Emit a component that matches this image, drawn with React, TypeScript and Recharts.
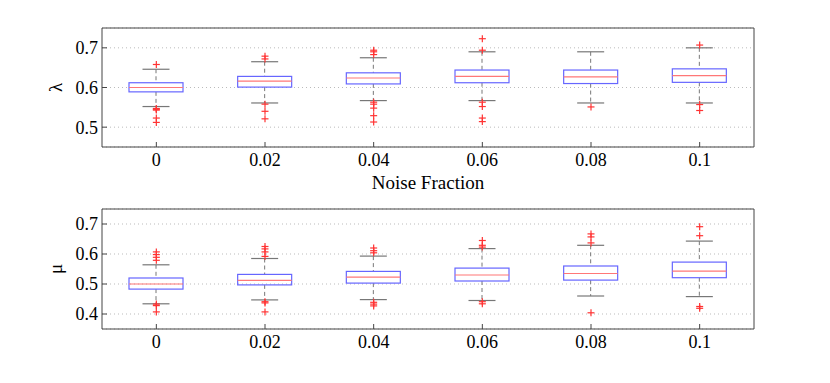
import React from "react";
import {
  ComposedChart,
  XAxis,
  YAxis,
  CartesianGrid,
  Bar,
  Scatter,
} from "recharts";

const categories = ["0", "0.02", "0.04", "0.06", "0.08", "0.1"];

// lambda panel
const lamLow = [0.552, 0.561, 0.567, 0.567, 0.561, 0.561];
const lamQ1 = [0.589, 0.601, 0.609, 0.612, 0.61, 0.613];
const lamMed = [0.6, 0.616, 0.624, 0.628, 0.627, 0.63];
const lamQ3 = [0.612, 0.628, 0.637, 0.644, 0.644, 0.647];
const lamHigh = [0.646, 0.665, 0.675, 0.69, 0.69, 0.7];
const lamOutliers = [
  [0.658, 0.547, 0.545, 0.543, 0.523, 0.512],
  [0.679, 0.672, 0.558, 0.54, 0.521],
  [0.694, 0.69, 0.683, 0.563, 0.558, 0.548, 0.529, 0.513],
  [0.723, 0.694, 0.563, 0.552, 0.523, 0.514],
  [0.551],
  [0.707, 0.557, 0.542],
];
const lamTicks = [0.5, 0.6, 0.7];

// mu panel
const muLow = [0.434, 0.447, 0.448, 0.445, 0.46, 0.458];
const muQ1 = [0.483, 0.497, 0.503, 0.51, 0.513, 0.521];
const muMed = [0.5, 0.512, 0.523, 0.53, 0.535, 0.543];
const muQ3 = [0.52, 0.532, 0.542, 0.553, 0.56, 0.573];
const muHigh = [0.564, 0.585, 0.593, 0.618, 0.629, 0.643];
const muOutliers = [
  [0.607, 0.598, 0.589, 0.579, 0.433, 0.428, 0.407],
  [0.625, 0.617, 0.607, 0.592, 0.441, 0.437, 0.407],
  [0.62, 0.611, 0.604, 0.439, 0.433, 0.427],
  [0.645, 0.629, 0.623, 0.441, 0.434],
  [0.667, 0.657, 0.637, 0.404],
  [0.691, 0.661, 0.425, 0.419],
];
const muTicks = [0.4, 0.5, 0.6, 0.7];

const FONT = "'Liberation Serif', 'Times New Roman', Tinos, 'DejaVu Serif', serif";
const FRAME = "#444";

const BoxShape = (props: any) => {
  const { x, y, width, height, payload } = props;
  const { lo, hi, q1, med, q3 } = payload;
  // the bar spans lo..hi, so inner values map linearly inside it
  const py = (v: number) => y + ((hi - v) / (hi - lo)) * height;
  const cx = x + width / 2;
  const cap = width / 4;
  return (
    <g>
      <line x1={cx} x2={cx} y1={py(hi)} y2={py(q3)} stroke="#777" strokeDasharray="4 3" />
      <line x1={cx} x2={cx} y1={py(q1)} y2={py(lo)} stroke="#777" strokeDasharray="4 3" />
      <line x1={cx - cap} x2={cx + cap} y1={py(hi)} y2={py(hi)} stroke="#777" strokeWidth={1.2} />
      <line x1={cx - cap} x2={cx + cap} y1={py(lo)} y2={py(lo)} stroke="#777" strokeWidth={1.2} />
      <rect x={x} y={py(q3)} width={width} height={py(q1) - py(q3)} fill="none" stroke="#6666ff" strokeWidth={1.2} />
      <line x1={x} x2={x + width} y1={py(med)} y2={py(med)} stroke="#ff7777" strokeWidth={1.2} />
    </g>
  );
};

const PlusShape = (props: any) => {
  const { cx, cy } = props;
  if (cx == null || cy == null) return null;
  return (
    <g stroke="#ff3333" strokeWidth={1.2}>
      <line x1={cx - 3.5} x2={cx + 3.5} y1={cy} y2={cy} />
      <line x1={cx} x2={cx} y1={cy - 3.5} y2={cy + 3.5} />
    </g>
  );
};

type PanelProps = {
  height: number;
  margin: { top: number; right: number; bottom: number; left: number };
  low: number[];
  q1: number[];
  med: number[];
  q3: number[];
  high: number[];
  outliers: number[][];
  domain: [number, number];
  ticks: number[];
  yLabel: string;
  xLabel?: string;
  xAxisHeight: number;
};

const BoxPanel = (p: PanelProps) => {
  const data = categories.map((cat, i) => ({
    cat,
    lo: p.low[i],
    q1: p.q1[i],
    med: p.med[i],
    q3: p.q3[i],
    hi: p.high[i],
    range: [p.low[i], p.high[i]],
  }));
  const points = categories.flatMap((cat, i) =>
    p.outliers[i].map((v) => ({ cat, v }))
  );
  const tickStyle = { fontSize: 18, fill: "#000", fontFamily: FONT, style: { fontFamily: FONT } };
  return (
    <ComposedChart width={830} height={p.height} data={data} margin={p.margin}>
      <CartesianGrid horizontal vertical={false} stroke="#bbb" strokeDasharray="1 3" />
      <XAxis
        dataKey="cat"
        type="category"
        allowDuplicatedCategory={false}
        height={p.xAxisHeight}
        tickSize={-5}
        tickMargin={11}
        stroke={FRAME}
        tick={tickStyle}
        label={
          p.xLabel
            ? { value: p.xLabel, position: "insideBottom", offset: 4, fontSize: 19, fill: "#000", fontFamily: FONT, style: { fontFamily: FONT } }
            : undefined
        }
      />
      <XAxis
        xAxisId="top"
        orientation="top"
        dataKey="cat"
        type="category"
        allowDuplicatedCategory={false}
        height={1}
        tickSize={-5}
        tick={false}
        stroke={FRAME}
      />
      <YAxis
        type="number"
        domain={p.domain}
        ticks={p.ticks}
        allowDataOverflow
        width={94}
        tickSize={-5}
        tickMargin={9}
        stroke={FRAME}
        tick={tickStyle}
        tickFormatter={(v: number) => v.toFixed(1)}
        label={{ value: p.yLabel, angle: -90, position: "center", fontSize: 19, fill: "#000", fontFamily: FONT, style: { fontFamily: FONT } }}
      />
      <YAxis
        yAxisId="right"
        orientation="right"
        type="number"
        domain={p.domain}
        ticks={p.ticks}
        allowDataOverflow
        width={1}
        tickSize={-5}
        tick={false}
        stroke={FRAME}
      />
      <Bar dataKey="range" barSize={54} shape={<BoxShape />} isAnimationActive={false} />
      <Scatter data={points} dataKey="v" shape={<PlusShape />} isAnimationActive={false} />
    </ComposedChart>
  );
};

export default function App() {
  return (
    <div
      style={{
        position: "absolute",
        left: 0,
        top: 0,
        width: 830,
        height: 383,
        background: "#fff",
        fontFamily: FONT,
      }}
    >
      <BoxPanel
        height={195}
        margin={{ top: 27, right: 75, bottom: 2, left: 8 }}
        low={lamLow}
        q1={lamQ1}
        med={lamMed}
        q3={lamQ3}
        high={lamHigh}
        outliers={lamOutliers}
        domain={[0.45, 0.75]}
        ticks={lamTicks}
        yLabel="λ"
        xLabel="Noise Fraction"
        xAxisHeight={46}
      />
      <BoxPanel
        height={188}
        margin={{ top: 13, right: 75, bottom: 24, left: 8 }}
        low={muLow}
        q1={muQ1}
        med={muMed}
        q3={muQ3}
        high={muHigh}
        outliers={muOutliers}
        domain={[0.35, 0.75]}
        ticks={muTicks}
        yLabel="μ"
        xAxisHeight={30}
      />
    </div>
  );
}
